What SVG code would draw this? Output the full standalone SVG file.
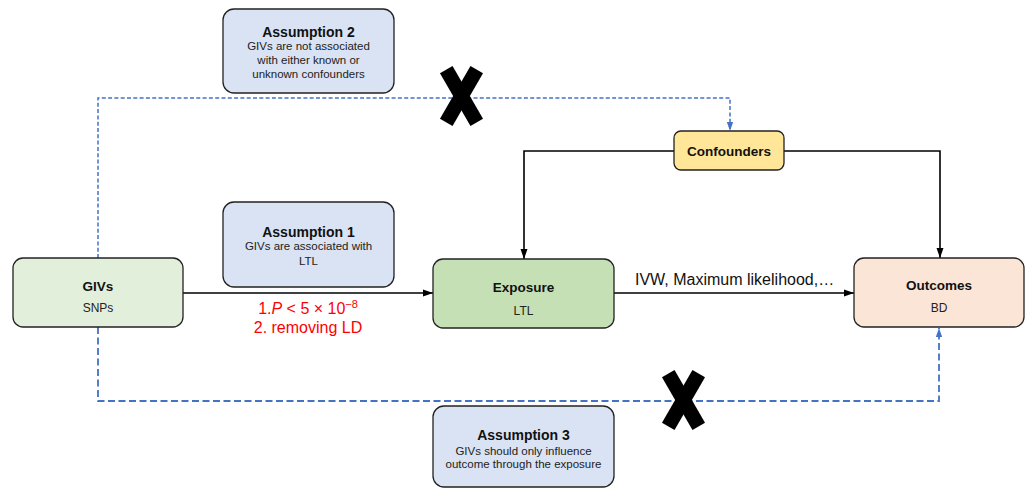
<svg xmlns="http://www.w3.org/2000/svg" width="1032" height="489" viewBox="0 0 1032 489">
<style>
.box{stroke:#222;stroke-width:1.3}
.t{font-family:"Liberation Sans",Arial,sans-serif;font-weight:bold;font-size:14px;fill:#111;text-anchor:middle}
.tn{font-family:"Liberation Sans",Arial,sans-serif;font-weight:bold;font-size:13.5px;fill:#111;text-anchor:middle}
.b{font-family:"Liberation Sans",Arial,sans-serif;font-size:11.5px;fill:#222;text-anchor:middle}
.s{font-family:"Liberation Sans",Arial,sans-serif;font-size:12px;fill:#222;text-anchor:middle}
.lbl{font-family:"Liberation Sans",Arial,sans-serif;font-size:16px;fill:#111}
.red{font-family:"Liberation Sans",Arial,sans-serif;font-size:16px;fill:#ff0000;text-anchor:middle}
.ln{fill:none;stroke:#000;stroke-width:1.6}
.d1{fill:none;stroke:#4472C4;stroke-width:1.5;stroke-dasharray:4 2.3}
.d2{fill:none;stroke:#4472C4;stroke-width:1.8;stroke-dasharray:7 3.5}
.x{fill:#000}
</style>
<defs>
<marker id="ab" markerUnits="userSpaceOnUse" markerWidth="10" markerHeight="10" viewBox="0 0 10 10" refX="10" refY="5" orient="auto">
<path d="M0,1.5 L10,5 L0,8.5 z" fill="#000"/>
</marker>
<marker id="au" markerUnits="userSpaceOnUse" markerWidth="9" markerHeight="9" viewBox="0 0 10 10" refX="10" refY="5" orient="auto">
<path d="M0,1.5 L10,5 L0,8.5 z" fill="#4472C4"/>
</marker>
<g id="xmark">
<rect x="-7.25" y="-30.5" width="14.5" height="61" transform="rotate(-30)"/>
<rect x="-7.25" y="-30.5" width="14.5" height="61" transform="rotate(30)"/>
</g>
</defs>
<rect width="1032" height="489" fill="#fff"/>

<g id="connectors">
<line class="ln" x1="183" y1="293" x2="433" y2="293" marker-end="url(#ab)"/>
<line class="ln" x1="614" y1="293" x2="854" y2="293" marker-end="url(#ab)"/>
<polyline class="ln" points="674,151 524,151 524,259" marker-end="url(#ab)"/>
<polyline class="ln" points="784,151 940,151 940,258" marker-end="url(#ab)"/>
<polyline class="d1" points="98,258 98,98 730,98 730,131" marker-end="url(#au)"/>
<polyline class="d2" points="98,327 98,401 939,401 939,328" marker-end="url(#au)"/>
<text class="lbl" x="635" y="285">IVW, Maximum likelihood,…</text>
<text class="red" x="308" y="314">1.<tspan font-style="italic">P</tspan> &lt; 5 × 10<tspan font-size="11" dy="-6">−8</tspan></text>
<text class="red" x="308" y="333">2. removing LD</text>
</g>

<g id="x1" class="x"><use href="#xmark" transform="translate(461.5,96)"/></g>
<g id="x2" class="x"><use href="#xmark" transform="translate(683.5,400)"/></g>

<g id="assumption2">
<rect class="box" x="223" y="9" width="171" height="84" rx="11" fill="#dae3f3"/>
<text class="t" x="308.5" y="37">Assumption 2</text>
<text class="b" x="308.5" y="50">GIVs are not associated</text>
<text class="b" x="308.5" y="64">with either known or</text>
<text class="b" x="308.5" y="78">unknown confounders</text>
</g>

<g id="assumption1">
<rect class="box" x="223" y="202" width="171" height="85" rx="11" fill="#dae3f3"/>
<text class="t" x="308.5" y="237">Assumption 1</text>
<text class="b" x="308.5" y="250">GIVs are associated with</text>
<text class="b" x="308.5" y="265">LTL</text>
</g>

<g id="assumption3">
<rect class="box" x="433" y="406" width="181" height="81" rx="11" fill="#dae3f3"/>
<text class="t" x="523.5" y="440">Assumption 3</text>
<text class="b" x="523.5" y="455">GIVs should only influence</text>
<text class="b" x="523.5" y="467.5">outcome through the exposure</text>
</g>

<g id="givs">
<rect class="box" x="13" y="258" width="170" height="69" rx="10" fill="#e2efda"/>
<text class="tn" x="98" y="291">GIVs</text>
<text class="s" x="98" y="312">SNPs</text>
</g>

<g id="confounders">
<rect class="box" x="674" y="131" width="110" height="39" rx="7" fill="#ffe699"/>
<text class="tn" x="729" y="156">Confounders</text>
</g>

<g id="exposure">
<rect class="box" x="433" y="259" width="181" height="69" rx="10" fill="#c5e0b4"/>
<text class="tn" x="523.5" y="292">Exposure</text>
<text class="s" x="523.5" y="315">LTL</text>
</g>

<g id="outcomes">
<rect class="box" x="854" y="258" width="170" height="69" rx="10" fill="#fbe5d6"/>
<text class="tn" x="939" y="290">Outcomes</text>
<text class="s" x="939" y="312">BD</text>
</g>
</svg>
